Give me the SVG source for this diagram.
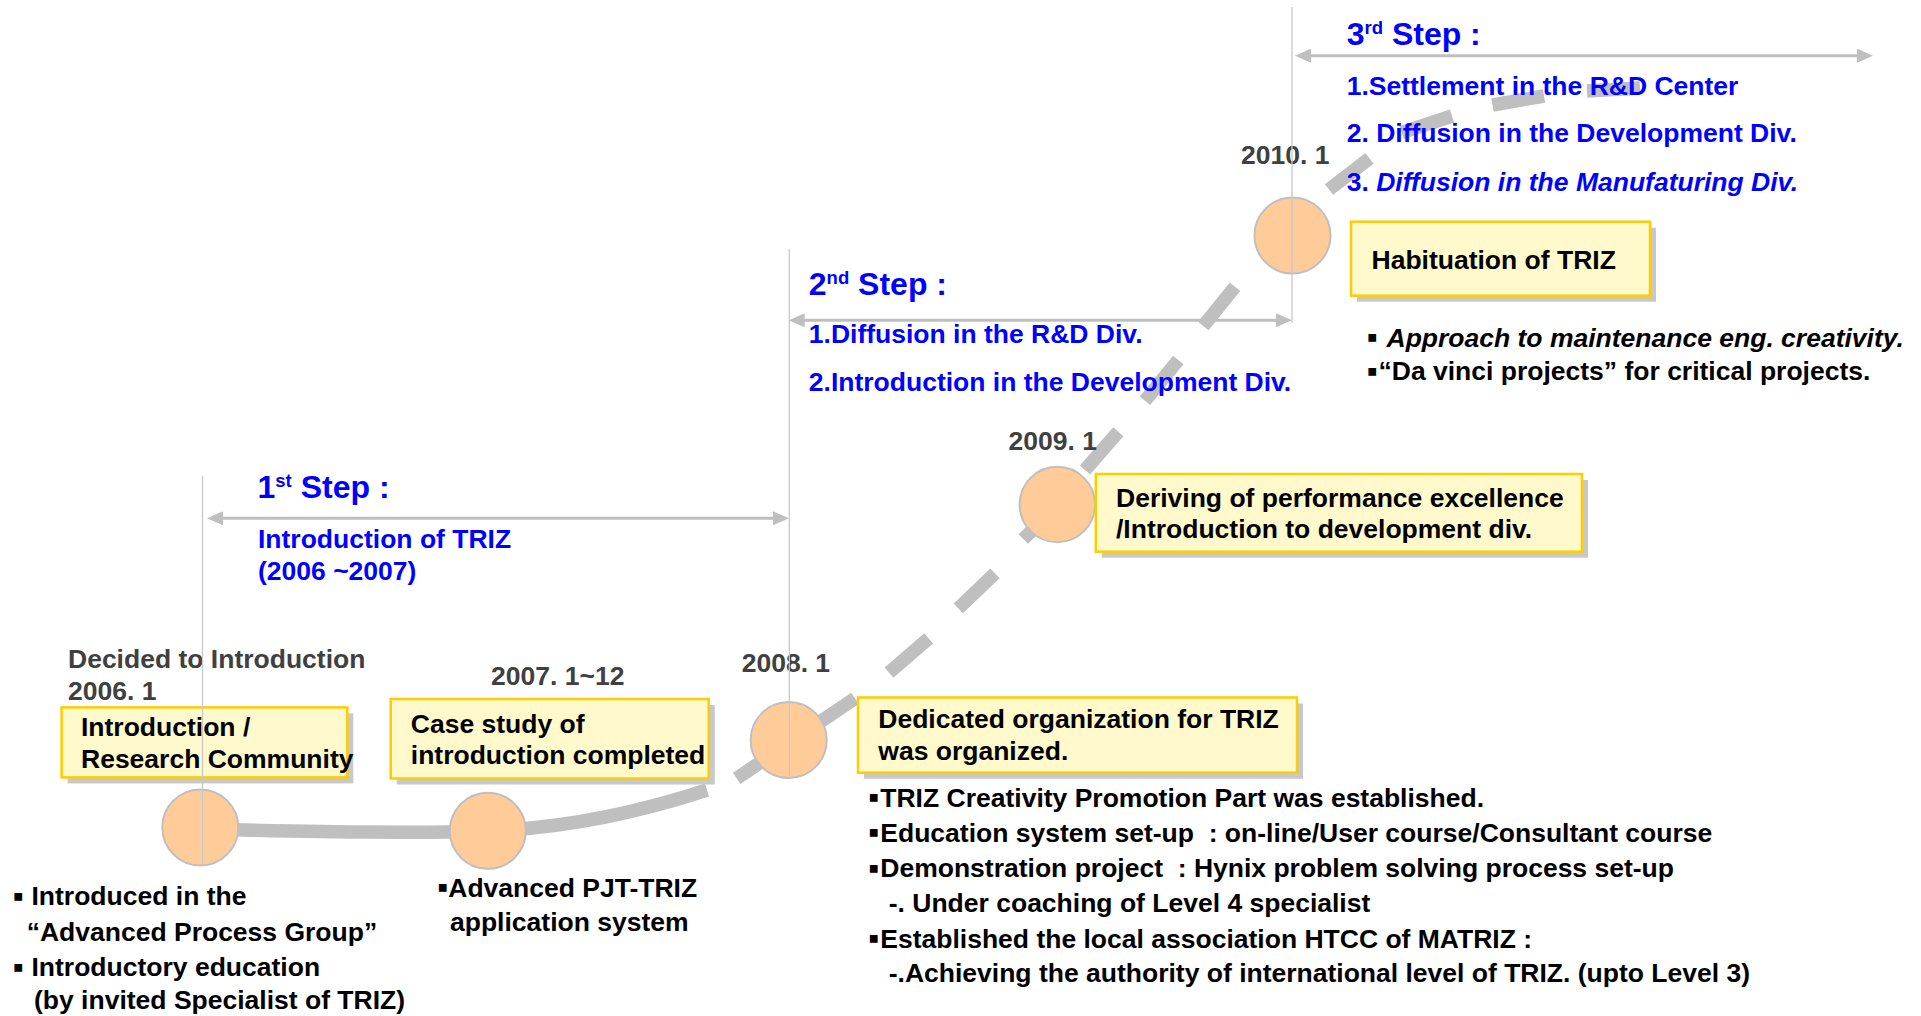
<svg xmlns="http://www.w3.org/2000/svg" width="1921" height="1016" viewBox="0 0 1921 1016">
<defs>
<style>
text{font-family:"Liberation Sans",Arial,Helvetica,sans-serif;font-weight:bold;font-size:26.5px;white-space:pre;fill:#000}
.blue{fill:#0000FF}
.date{fill:#404040}
.step{fill:#0000FF;font-size:32px}
.sup{font-size:18.5px}
.it{font-style:italic}
.bul{font-family:"DejaVu Sans",sans-serif;font-size:15.5px}
.box{fill:#FFF9CC;stroke:#FFCC00;stroke-width:2.5}
.shadow{fill:#C8C8C8}
.dot{fill:#FFCC99;stroke:#BFBFBF;stroke-width:2}
.guide{stroke:#C8C8C8;stroke-width:1.3;fill:none}
.span{stroke:#BFBFBF;stroke-width:3;fill:none;marker-start:url(#tip);marker-end:url(#tip)}
.track{stroke:#BFBFBF;stroke-width:13.5;fill:none;stroke-linecap:butt}
</style>
<marker id="tip" viewBox="0 0 16 14" refX="8" refY="7" markerWidth="16" markerHeight="14" markerUnits="userSpaceOnUse" orient="auto-start-reverse">
<path d="M0,0 L16,7 L0,14 z" fill="#BFBFBF"/>
</marker>
</defs>

<rect width="1921" height="1016" fill="#FFFFFF"/>

<!-- timeline track: solid start, then dashed climb -->
<g id="connectors">
<path class="track" d="M200,829 C300,831 400,834 488,831 C570,828 640,812 707,790"/>
<path class="track" d="M736.7,778.3 L855,698.3 M889,672.7 L928.7,638.3 M958.3,608.3 L995,573.3 M1023.3,539 L1060,503 M1085,470 L1118.3,431.7 M1145,400.7 L1178.3,360 M1203.3,326 L1235,286.7 M1262,253 L1296,214 M1329,189.5 L1369.5,158.3 M1401.7,132.5 L1452,116 M1492.5,105 L1544,96 M1587,91 L1640,88"/>
</g>

<!-- milestones -->
<g id="m2006">
<circle class="dot" cx="200.3" cy="827.5" r="38"/>
<rect class="shadow" x="67.6" y="713.4" width="285.7" height="70"/>
<rect class="box" x="61.6" y="707.4" width="285.7" height="70"/>
<text x="81" y="735.5">Introduction /</text>
<text x="81" y="767.7">Research Community</text>
<text class="date" x="68" y="667.7">Decided to Introduction</text>
<text class="date" x="68" y="700">2006. 1</text>
<text x="13" y="905"><tspan class="bul" dy="-4.5">▪ </tspan><tspan x="31.5" dy="4.5">Introduced in the</tspan></text>
<text x="26.7" y="941">“Advanced Process Group”</text>
<text x="13" y="976"><tspan class="bul" dy="-4.5">▪ </tspan><tspan x="31.5" dy="4.5">Introductory education</tspan></text>
<text x="34" y="1009">(by invited Specialist of TRIZ)</text>
</g>

<g id="m2007">
<circle class="dot" cx="487.8" cy="830.8" r="38"/>
<rect class="shadow" x="396.7" y="705" width="318" height="79.5"/>
<rect class="box" x="390.7" y="699" width="318" height="79.5"/>
<text x="410.8" y="732.5">Case study of</text>
<text x="410.8" y="763.8">introduction completed</text>
<text class="date" x="491" y="685.4">2007. 1~12</text>
<text x="437.6" y="896.5"><tspan class="bul" dy="-4.5">▪</tspan><tspan x="448.3" dy="4.5">Advanced PJT-TRIZ</tspan></text>
<text x="450" y="931">application system</text>
</g>

<g id="m2008">
<circle class="dot" cx="788.7" cy="740" r="38"/>
<rect class="shadow" x="864" y="703.5" width="439" height="75.2"/>
<rect class="box" x="858" y="697.5" width="439" height="75.2"/>
<text x="878.3" y="728.3">Dedicated organization for TRIZ</text>
<text x="878.3" y="759.7">was organized.</text>
<text class="date" x="741.7" y="671.7">2008. 1</text>
<text x="868.5" y="806.7"><tspan class="bul" dy="-4.5">▪</tspan><tspan x="880.3" dy="4.5">TRIZ Creativity Promotion Part was established.</tspan></text>
<text x="868.5" y="841.7"><tspan class="bul" dy="-4.5">▪</tspan><tspan x="880.3" dy="4.5">Education system set-up  : on-line/User course/Consultant course</tspan></text>
<text x="868.5" y="877"><tspan class="bul" dy="-4.5">▪</tspan><tspan x="880.3" dy="4.5">Demonstration project  : Hynix problem solving process set-up</tspan></text>
<text x="874" y="912.3">  -. Under coaching of Level 4 specialist</text>
<text x="868.5" y="947.7"><tspan class="bul" dy="-4.5">▪</tspan><tspan x="880.3" dy="4.5">Established the local association HTCC of MATRIZ :</tspan></text>
<text x="874" y="982.3">  -.Achieving the authority of international level of TRIZ. (upto Level 3)</text>
</g>

<g id="m2009">
<circle class="dot" cx="1057.3" cy="504.5" r="37.7"/>
<rect class="shadow" x="1101.8" y="480" width="486.2" height="77.7"/>
<rect class="box" x="1095.8" y="474" width="486.2" height="77.7"/>
<text x="1116" y="506.7">Deriving of performance excellence</text>
<text x="1116" y="538">/Introduction to development div.</text>
<text class="date" x="1008.5" y="450">2009. 1</text>
</g>

<g id="m2010">
<circle class="dot" cx="1292.5" cy="235.5" r="38"/>
<rect class="shadow" x="1357" y="227.7" width="299" height="74"/>
<rect class="box" x="1351" y="221.7" width="299" height="74"/>
<text x="1371.5" y="268.7">Habituation of TRIZ</text>
<text class="date" x="1241" y="164">2010. 1</text>
<text x="1367" y="346.7"><tspan class="bul" dy="-4.5">▪ </tspan><tspan x="1386.5" dy="4.5" class="it">Approach to maintenance eng. creativity.</tspan></text>
<text x="1367" y="380"><tspan class="bul" dy="-4.5">▪</tspan><tspan x="1378.5" dy="4.5">“Da vinci projects” for critical projects.</tspan></text>
</g>

<!-- phase guides and spans -->
<g id="phases">
<line class="guide" x1="202.5" y1="476" x2="202.5" y2="864"/>
<line class="guide" x1="789.3" y1="249" x2="789.3" y2="776"/>
<line class="guide" x1="1292" y1="7" x2="1292" y2="323"/>
<line class="span" x1="215" y1="518.3" x2="781" y2="518.3"/>
<line class="span" x1="796.7" y1="320.3" x2="1284" y2="320.3"/>
<line class="span" x1="1303" y1="55.7" x2="1865" y2="55.7"/>
</g>

<g id="step1">
<text class="step" x="257.5" y="498">1<tspan class="sup" dy="-11">st</tspan><tspan dy="11"> Step :</tspan></text>
<text class="blue" x="258" y="548">Introduction of TRIZ</text>
<text class="blue" x="258" y="579.5">(2006 ~2007)</text>
</g>

<g id="step2">
<text class="step" x="808.8" y="295">2<tspan class="sup" dy="-11">nd</tspan><tspan dy="11"> Step :</tspan></text>
<text class="blue" x="808.8" y="343.3">1.Diffusion in the R&amp;D Div.</text>
<text class="blue" x="808.8" y="390.7">2.Introduction in the Development Div.</text>
</g>

<g id="step3">
<text class="step" x="1346.7" y="45">3<tspan class="sup" dy="-11">rd</tspan><tspan dy="11"> Step :</tspan></text>
<text class="blue" x="1346.7" y="95">1.Settlement in the R&amp;D Center</text>
<text class="blue" x="1346.7" y="142">2. Diffusion in the Development Div.</text>
<text class="blue" x="1346.7" y="190.5">3. <tspan class="it">Diffusion in the Manufaturing Div.</tspan></text>
</g>
</svg>
